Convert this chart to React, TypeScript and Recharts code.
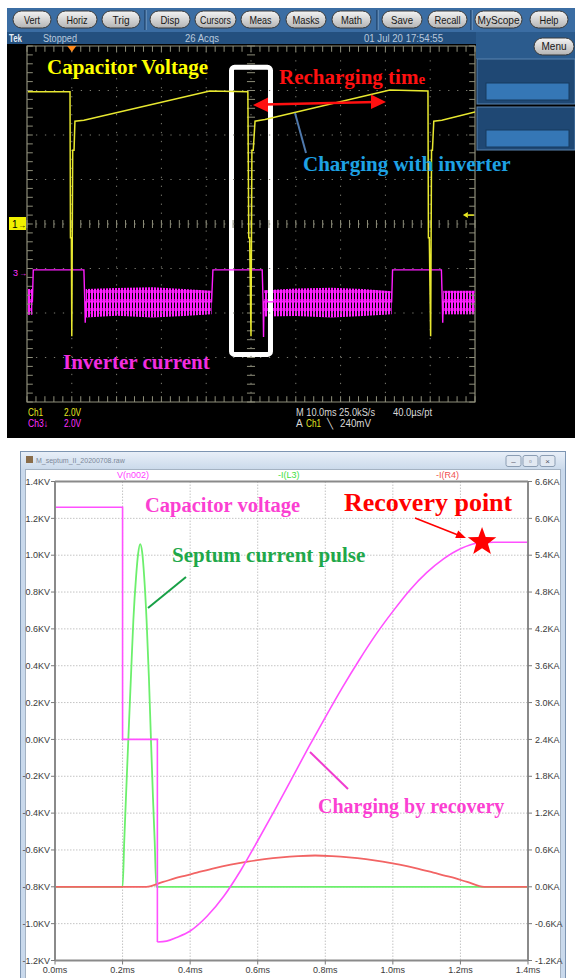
import React from "react";
import {
  ComposedChart, LineChart, Line, Area, XAxis, YAxis, CartesianGrid,
  ReferenceLine, ReferenceArea, ReferenceDot,
} from "recharts";

// ---- Tek capture, read in screen divisions (10 x 8, centre = 0,0) ----
const ch1X = [0.02, 0.96, 0.97, 0.99, 1.0, 1.02, 1.05, 1.07, 1.27, 4.08, 4.93, 4.95, 4.97, 5.0, 5.02, 5.05, 5.09, 5.31, 8.1, 8.95, 8.96, 8.98, 9.01, 9.03, 9.05, 9.08, 9.26, 10.0];
const ch1Y = [2.97, 2.97, -0.31, -0.31, -2.52, 1.66, 1.66, 2.31, 2.33, 2.99, 2.97, -0.31, -0.31, -2.52, 1.66, 1.66, 2.31, 2.35, 3.01, 2.99, -0.31, -0.31, -2.52, 1.66, 1.66, 2.31, 2.33, 2.52];

const ch3X = [0.02, 0.12, 0.14, 1.27, 1.29, 1.3, 1.31, 4.12, 4.15, 5.25, 5.27, 5.28, 5.29, 8.14, 8.16, 9.25, 9.27, 9.28, 9.29, 10.0];
const ch3Y = [-1.75, -1.75, -1.03, -1.03, -1.75, -2.22, -1.75, -1.75, -1.03, -1.03, -1.75, -2.54, -1.75, -1.75, -1.03, -1.03, -1.75, -2.22, -1.75, -1.75];

// inverter ripple envelope (one list per burst)
const rippleX = [[0.02, 0.12], [1.31, 2.0, 2.8, 3.5, 4.12], [5.29, 6.0, 6.8, 7.5, 8.14], [9.29, 10.0]];
const rippleHi = [[-1.46, -1.46], [-1.46, -1.44, -1.42, -1.46, -1.5], [-1.49, -1.45, -1.43, -1.46, -1.51], [-1.5, -1.5]];
const rippleLo = [[-2.04, -2.04], [-2.1, -2.06, -2.1, -2.07, -2.03], [-2.08, -2.07, -2.1, -2.07, -2.03], [-2.03, -2.03]];

// ---- LTspice simulation ----
const msTicks = [0, 0.2, 0.4, 0.6, 0.8, 1.0, 1.2, 1.4];
const kvTicks = [-1.2, -1.0, -0.8, -0.6, -0.4, -0.2, 0, 0.2, 0.4, 0.6, 0.8, 1.0, 1.2, 1.4];
const kaTicks = [-1.2, -0.6, 0, 0.6, 1.2, 1.8, 2.4, 3.0, 3.6, 4.2, 4.8, 5.4, 6.0, 6.6];

// V(n002): switching steps, then the recovery swing
const capStepT = [0, 0.2, 0.2, 0.303, 0.303];
const capStepKV = [1.26, 1.26, 0, 0, -1.1];
const capRiseT = [0.303, 0.33, 0.36, 0.4, 0.45, 0.5, 0.55, 0.6, 0.65, 0.7, 0.75, 0.8, 0.85, 0.9, 0.95, 1.0, 1.05, 1.1, 1.15, 1.2, 1.25, 1.3, 1.4];
const capRiseKV = [-1.1, -1.095, -1.075, -1.04, -0.96, -0.85, -0.71, -0.55, -0.385, -0.215, -0.045, 0.12, 0.28, 0.43, 0.57, 0.695, 0.81, 0.905, 0.98, 1.035, 1.065, 1.07, 1.07];

const septT = [0, 0.2, 0.205, 0.21, 0.217, 0.225, 0.232, 0.24, 0.246, 0.252, 0.258, 0.264, 0.271, 0.278, 0.284, 0.29, 0.295, 0.3, 1.4];
const septKA = [0, 0, 0.75, 1.45, 2.4, 3.45, 4.35, 5.05, 5.42, 5.58, 5.45, 5.05, 4.35, 3.4, 2.4, 1.45, 0.75, 0, 0];

const recT = [0, 0.27, 0.32, 0.37, 0.42, 0.47, 0.52, 0.57, 0.62, 0.67, 0.72, 0.77, 0.82, 0.87, 0.92, 0.97, 1.02, 1.07, 1.12, 1.17, 1.22, 1.27, 1.4];
const recKA = [0, 0, 0.08, 0.16, 0.23, 0.3, 0.36, 0.41, 0.45, 0.48, 0.5, 0.51, 0.5, 0.48, 0.45, 0.41, 0.36, 0.3, 0.23, 0.16, 0.08, 0, 0];

const recovery = { t: 1.264, kv: 1.072 };

const ch1 = ch1X.map((x, i) => ({ x, y: ch1Y[i] }));
const ch3 = ch3X.map((x, i) => ({ x, y: ch3Y[i] }));
const ripple = rippleX.map((xs, s) => xs.map((x, i) => ({ x, r: [rippleLo[s][i], rippleHi[s][i]] })));
const capStep = capStepT.map((t, i) => ({ t, v: capStepKV[i] }));
const capRise = capRiseT.map((t, i) => ({ t, v: capRiseKV[i] }));
const septData = septT.map((t, i) => ({ t, v: septKA[i] }));
const recData = recT.map((t, i) => ({ t, v: recKA[i] }));

const minorX = Array.from({ length: 51 }, (_, i) => Math.round(i * 2) / 10);
const minorY = Array.from({ length: 41 }, (_, i) => Math.round(-40 + i * 2) / 10);
const majorX = [1, 2, 3, 4, 5, 6, 7, 8, 9];
const majorY = [-3, -2, -1, 0, 1, 2, 3];

const buttons: [string, number, number, number][] = [
  ["Vert", 13, 51, 16], ["Horiz", 57, 97, 21], ["Trig", 102, 140, 17], ["Disp", 150, 190, 19],
  ["Cursors", 195, 236, 31], ["Meas", 241, 280, 22], ["Masks", 286, 326, 27], ["Math", 332, 371, 21],
  ["Save", 382, 422, 22], ["Recall", 428, 467, 26], ["MyScope", 475, 522, 42], ["Help", 530, 568, 19],
];

const GRAT = "#8e8e7a";
const serif = "'Liberation Serif', 'Times New Roman', serif";
const sans = "'Liberation Sans', Arial, sans-serif";

const Star = (props: any) => {
  const { cx, cy } = props;
  const pts: string[] = [];
  for (let k = 0; k < 10; k++) {
    const r = k % 2 ? 6.2 : 15;
    const a = -Math.PI / 2 + (k * Math.PI) / 5;
    pts.push(`${cx + r * Math.cos(a)},${cy + r * Math.sin(a)}`);
  }
  return <polygon points={pts.join(" ")} fill="#ff0000" />;
};

const TrigMark = (props: any) => {
  const { cx, cy } = props;
  return <polygon points={`${cx - 4.5},${cy} ${cx + 4.5},${cy} ${cx},${cy + 6}`} fill="#ff8a1c" />;
};

const LevelMark = (props: any) => {
  const { cx, cy } = props;
  return (
    <g>
      <polygon points={`${cx},${cy} ${cx + 5},${cy - 3} ${cx + 5},${cy + 3}`} fill="#e8e820" />
      <line x1={cx + 5} y1={cy} x2={cx + 11} y2={cy} stroke="#e8e820" strokeWidth={1.5} />
    </g>
  );
};

function ScopeChart() {
  return (
    <ComposedChart width={568} height={394} margin={{ top: 2, right: 100, bottom: 36, left: 20 }}>
      <XAxis hide type="number" dataKey="x" domain={[0, 10]} allowDataOverflow />
      <YAxis hide type="number" domain={[-4, 4]} allowDataOverflow />
      {majorX.map((x) => (
        <ReferenceLine key={"gx" + x} x={x} stroke="#7a7a70" strokeWidth={1} strokeDasharray="1.3 7.66" />
      ))}
      {majorY.map((y) => (
        <ReferenceLine key={"gy" + y} y={y} stroke="#7a7a70" strokeWidth={1} strokeDasharray="1.3 7.66" />
      ))}
      {minorX.map((x) => (
        <ReferenceLine key={"cx" + x} segment={[{ x, y: -0.09 }, { x, y: 0.09 }]} stroke={GRAT} ifOverflow="visible" />
      ))}
      {minorY.map((y) => (
        <ReferenceLine key={"cy" + y} segment={[{ x: 4.91, y }, { x: 5.09, y }]} stroke={GRAT} ifOverflow="visible" />
      ))}
      {minorX.map((x) => (
        <ReferenceLine key={"tx" + x} segment={[{ x, y: 4 }, { x, y: 3.87 }]} stroke={GRAT} ifOverflow="visible" />
      ))}
      {minorX.map((x) => (
        <ReferenceLine key={"bx" + x} segment={[{ x, y: -4 }, { x, y: -3.87 }]} stroke={GRAT} ifOverflow="visible" />
      ))}
      {minorY.map((y) => (
        <ReferenceLine key={"ly" + y} segment={[{ x: 0, y }, { x: 0.13, y }]} stroke={GRAT} ifOverflow="visible" />
      ))}
      {minorY.map((y) => (
        <ReferenceLine key={"ry" + y} segment={[{ x: 10, y }, { x: 9.87, y }]} stroke={GRAT} ifOverflow="visible" />
      ))}
      <ReferenceArea x1={0} x2={10} y1={-4} y2={4} fill="none" stroke={GRAT} strokeWidth={1.2} ifOverflow="visible" />
      {ripple.map((seg, s) => (
        <Area key={"rip" + s} data={seg} dataKey="r" type="linear" stroke="none" fill="url(#ripple)" fillOpacity={1} isAnimationActive={false} />
      ))}
      <Line data={ch3} dataKey="y" type="linear" stroke="#ff1eff" strokeWidth={1.4} dot={false} isAnimationActive={false} />
      <Line data={ch1} dataKey="y" type="linear" stroke="#e8e830" strokeWidth={1.5} dot={false} isAnimationActive={false} />
      <ReferenceArea x1={4.565} x2={5.435} y1={-2.93} y2={3.52} fill="none" stroke="#ffffff" strokeWidth={5} radius={3} ifOverflow="visible" />
      <ReferenceDot x={1.0} y={4} shape={<TrigMark />} ifOverflow="visible" />
      <ReferenceDot x={9.73} y={0.2} shape={<LevelMark />} ifOverflow="visible" />
    </ComposedChart>
  );
}

function SpiceChart() {
  const tickStyle = { fontSize: 9, fill: "#3a3a3a", fontFamily: sans };
  const axisLine = { stroke: "#8a8a8a", strokeWidth: 2 };
  return (
    <LineChart width={544} height={512} margin={{ top: 15.5, right: 0, bottom: 0, left: 0 }}>
      <CartesianGrid yAxisId="kv" stroke="#c4c4c4" strokeDasharray="1.5 1.5" />
      <XAxis
        dataKey="t" type="number" domain={[0, 1.4]} ticks={msTicks} interval={0}
        tickFormatter={(v: number) => `${v.toFixed(1)}ms`} height={17.5}
        tick={tickStyle} tickSize={4} tickMargin={2} axisLine={axisLine} tickLine={{ stroke: "#7a7a7a" }}
      />
      <YAxis
        yAxisId="kv" type="number" domain={[-1.2, 1.4]} ticks={kvTicks} interval={0}
        tickFormatter={(v: number) => `${v.toFixed(1)}KV`} width={34}
        tick={tickStyle} tickSize={4} tickMargin={1} axisLine={axisLine} tickLine={{ stroke: "#7a7a7a" }}
      />
      <YAxis
        yAxisId="ka" orientation="right" type="number" domain={[-1.2, 6.6]} ticks={kaTicks} interval={0}
        tickFormatter={(v: number) => `${v.toFixed(1)}KA`} width={37}
        tick={tickStyle} tickSize={4} tickMargin={3} axisLine={axisLine} tickLine={{ stroke: "#7a7a7a" }}
      />
      <ReferenceLine yAxisId="kv" y={1.4} stroke="#8a8a8a" strokeWidth={2} />
      <Line data={septData} yAxisId="ka" dataKey="v" type="monotone" stroke="#6cef6c" strokeWidth={1.8} dot={false} isAnimationActive={false} />
      <Line data={recData} yAxisId="ka" dataKey="v" type="monotone" stroke="#f26464" strokeWidth={1.8} dot={false} isAnimationActive={false} />
      <Line data={capStep} yAxisId="kv" dataKey="v" type="linear" stroke="#ff50ff" strokeWidth={1.6} dot={false} isAnimationActive={false} />
      <Line data={capRise} yAxisId="kv" dataKey="v" type="monotone" stroke="#ff50ff" strokeWidth={1.6} dot={false} isAnimationActive={false} />
      <ReferenceDot yAxisId="kv" x={recovery.t} y={recovery.kv} shape={<Star />} ifOverflow="visible" />
    </LineChart>
  );
}

export default function App() {
  return (
    <div style={{ position: "absolute", left: 0, top: 0, width: 575, height: 978, overflow: "hidden", background: "#fff" }}>
      {/* scope frame + LTspice window */}
      <svg width={575} height={978} style={{ position: "absolute", left: 0, top: 0 }}>
        <defs>
          <linearGradient id="btn" x1="0" y1="0" x2="0" y2="1">
            <stop offset="0" stopColor="#f4f4f4" />
            <stop offset="1" stopColor="#b4b4b4" />
          </linearGradient>
          <linearGradient id="ttl" x1="0" y1="0" x2="0" y2="1">
            <stop offset="0" stopColor="#e8eff8" />
            <stop offset="1" stopColor="#cbdaeb" />
          </linearGradient>
          <pattern id="ripple" width="3" height="9" patternUnits="userSpaceOnUse">
            <rect width="2" height="9" fill="#ff1eff" />
            <rect x="2" y="3" width="1" height="3" fill="#b010b0" />
          </pattern>
        </defs>
        <rect x={7} y={8} width={568} height={24} fill="#3b6da3" />
        {[145, 377, 471].map((x) => (
          <g key={x}>
            <line x1={x} y1={10} x2={x} y2={30} stroke="#1c3c62" strokeWidth={1.2} />
            <line x1={x + 1.2} y1={10} x2={x + 1.2} y2={30} stroke="#7ea2c8" strokeWidth={0.8} />
          </g>
        ))}
        {buttons.map(([label, x0, x1, tw]) => (
          <g key={label}>
            <rect x={x0} y={11} width={x1 - x0} height={17} rx={8.5} fill="url(#btn)" stroke="#3a3a3a" strokeWidth={1} />
            <text x={(x0 + x1) / 2} y={23.5} textAnchor="middle" fontSize={11} fontFamily={sans} fill="#161616"
              textLength={tw} lengthAdjust="spacingAndGlyphs">{label}</text>
          </g>
        ))}
        <rect x={7} y={32} width={568} height={12} fill="#24507f" />
        <text x={9} y={42} fontSize={10} fontWeight={700} fontFamily={sans} fill="#e4ecf4" textLength={13} lengthAdjust="spacingAndGlyphs">Tek</text>
        <text x={43} y={42} fontSize={10} fontFamily={sans} fill="#b8c8dc" textLength={34} lengthAdjust="spacingAndGlyphs">Stopped</text>
        <text x={185} y={42} fontSize={10} fontFamily={sans} fill="#b8c8dc" textLength={34} lengthAdjust="spacingAndGlyphs">26 Acqs</text>
        <text x={364} y={42} fontSize={10} fontFamily={sans} fill="#b8c8dc" textLength={79} lengthAdjust="spacingAndGlyphs">01 Jul 20 17:54:55</text>
        <rect x={7} y={44} width={568} height={394} fill="#000" />
        <rect x={476} y={32} width={99} height={27} fill="#2b5b8d" />
        <rect x={534} y={38} width={40} height={17} rx={8.5} fill="url(#btn)" stroke="#3a3a3a" />
        <text x={554} y={50} textAnchor="middle" fontSize={11} fontFamily={sans} fill="#161616" textLength={25} lengthAdjust="spacingAndGlyphs">Menu</text>
        <rect x={477} y={59} width={98} height={45} fill="#1f4874" stroke="#5b84b0" />
        <rect x={486} y={83} width={83} height={17} fill="#3577b6" stroke="#173a5e" />
        <rect x={477} y={107} width={98} height={43} fill="#1f4874" stroke="#5b84b0" />
        <rect x={486} y={130} width={83} height={17} fill="#3577b6" stroke="#173a5e" />
        {/* channel markers */}
        <rect x={9} y={217} width={17} height={13} fill="#f0f000" />
        <text x={12} y={227.5} fontSize={10} fontFamily={sans} fill="#000">1</text>
        <text x={18} y={227.5} fontSize={8} fontFamily={sans} fill="#000">→</text>
        <text x={13} y={276} fontSize={9} fontFamily={sans} fill="#ff30ff">3</text>
        <text x={19} y={276} fontSize={8} fontFamily={sans} fill="#ff30ff">→</text>
        {/* readouts */}
        <text x={28} y={416} fontSize={10} fontFamily={sans} fill="#e8e820" textLength={15} lengthAdjust="spacingAndGlyphs">Ch1</text>
        <text x={64} y={416} fontSize={10} fontFamily={sans} fill="#e8e820" textLength={17} lengthAdjust="spacingAndGlyphs">2.0V</text>
        <text x={28} y={427} fontSize={10} fontFamily={sans} fill="#ff30ff" textLength={20} lengthAdjust="spacingAndGlyphs">Ch3↓</text>
        <text x={64} y={427} fontSize={10} fontFamily={sans} fill="#ff30ff" textLength={17} lengthAdjust="spacingAndGlyphs">2.0V</text>
        <text x={296} y={416} fontSize={10} fontFamily={sans} fill="#d8d8d8" textLength={79} lengthAdjust="spacingAndGlyphs">M 10.0ms 25.0kS/s</text>
        <text x={393} y={416} fontSize={10} fontFamily={sans} fill="#d8d8d8" textLength={39} lengthAdjust="spacingAndGlyphs">40.0µs/pt</text>
        <text x={296} y={427} fontSize={10} fontFamily={sans} fill="#d8d8d8">A</text>
        <text x={306} y={427} fontSize={10} fontFamily={sans} fill="#e8e820" textLength={15} lengthAdjust="spacingAndGlyphs">Ch1</text>
        <text x={327} y={427} fontSize={10} fontFamily={sans} fill="#d8d8d8">╲</text>
        <text x={340} y={427} fontSize={10} fontFamily={sans} fill="#d8d8d8" textLength={31} lengthAdjust="spacingAndGlyphs">240mV</text>

        {/* LTspice window */}
        <rect x={20.5} y={451.5} width={545} height={540} fill="#c9d9ec" stroke="#7d95b2" />
        <rect x={21} y={452} width={544} height={17} fill="url(#ttl)" />
        <rect x={26} y={456} width={7} height={7} fill="#8a6d4a" />
        <text x={36} y={463} fontSize={7} fontFamily={sans} fill="#7b8899">M_septum_II_20200708.raw</text>
        {[506, 523, 540].map((x, i) => (
          <g key={x}>
            <rect x={x} y={455.5} width={15} height={11} rx={2} fill="#e2e9f2" stroke="#8b9db3" />
            <text x={x + 7.5} y={464} textAnchor="middle" fontSize={8} fontFamily={sans} fill="#556">{["–", "▫", "×"][i]}</text>
          </g>
        ))}
        <rect x={25.5} y={469.5} width={535} height={520} fill="#ffffff" stroke="#a4b2c2" />
        <text x={117} y={478} fontSize={9} fontFamily={sans} fill="#ff40ff">V(n002)</text>
        <text x={278} y={478} fontSize={9} fontFamily={sans} fill="#40e040">-I(L3)</text>
        <text x={436} y={478} fontSize={9} fontFamily={sans} fill="#f05050">-I(R4)</text>
      </svg>

      <div style={{ position: "absolute", left: 7, top: 44 }}>
        <ScopeChart />
      </div>
      <div style={{ position: "absolute", left: 21, top: 466 }}>
        <SpiceChart />
      </div>

      {/* annotations */}
      <svg width={575} height={978} style={{ position: "absolute", left: 0, top: 0, pointerEvents: "none" }}>
        <g fontFamily={serif} fontWeight={700}>
          <text x={47} y={74} fontSize={21} fill="#ffff00">Capacitor Voltage</text>
          <text x={279} y={84} fontSize={21} fill="#ff1010">Recharging tim<tspan fontSize={15}>e</tspan></text>
          <text x={303} y={171} fontSize={21} fill="#1ea2e4">Charging with inverter</text>
          <text x={63} y={369} fontSize={21} fill="#f22ee0">Inverter current</text>

          <text x={145} y={512} fontSize={20.5} fill="#fb3fd2">Capacitor voltage</text>
          <text x={344} y={511} fontSize={26} fill="#ff0000">Recovery point</text>
          <text x={172} y={562} fontSize={21} fill="#1fa84a">Septum current pulse</text>
          <text x={318} y={813} fontSize={20} fill="#fb3fd2">Charging by recovery</text>
        </g>
        {/* recharging-time arrow */}
        <line x1={264} y1={104.5} x2={376} y2={102} stroke="#ff1010" strokeWidth={2.5} />
        <polygon points="253,105 268,97.5 268,112" fill="#ff1010" />
        <polygon points="386,102 371,94.5 371,109" fill="#ff1010" />
        <line x1={295} y1={113} x2={306} y2={153} stroke="#4f79ad" strokeWidth={2} />
        {/* LTspice leaders */}
        <line x1={186} y1={577} x2={148} y2={608} stroke="#18a046" strokeWidth={2} />
        <line x1={310} y1={752} x2={348} y2={789} stroke="#f03cd0" strokeWidth={2} />
        <line x1={415} y1={518} x2={458} y2={535} stroke="#ff0000" strokeWidth={1.6} />
        <polygon points="466,538 455.2,538.1 458.2,530.6" fill="#ff0000" />
      </svg>
    </div>
  );
}
